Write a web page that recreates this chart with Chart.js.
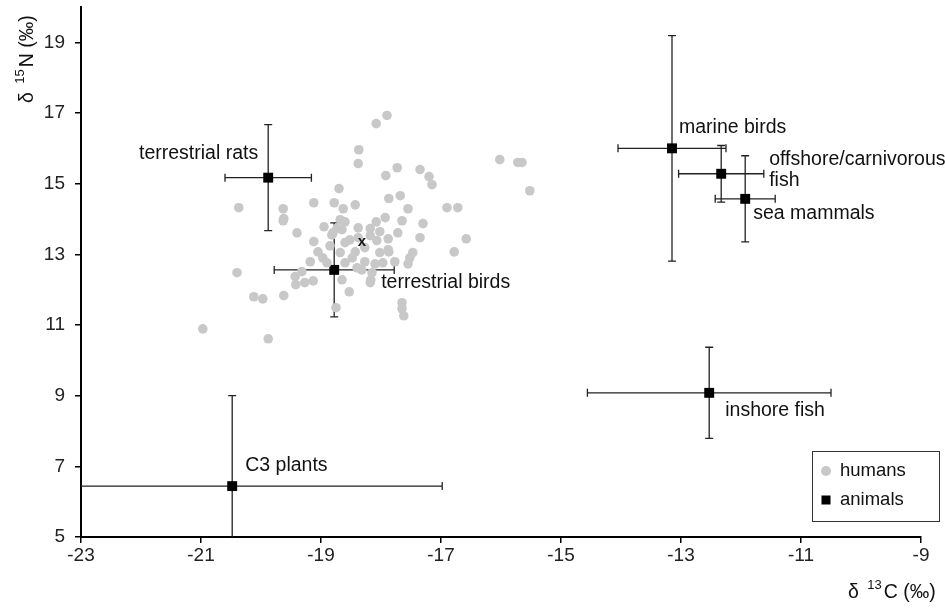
<!DOCTYPE html>
<html lang="en">
<head>
<meta charset="UTF-8">
<title>Carbon and nitrogen isotope values</title>
<script src="https://cdn.jsdelivr.net/npm/chart.js"></script>
<style>
  html, body { margin: 0; padding: 0; background: #fff; }
  .wrap { width: 945px; height: 611px; }
</style>
</head>
<body>
<div class="wrap"><canvas id="isoChart"></canvas></div>
<script>
const xTicks = [-23, -21, -19, -17, -15, -13, -11, -9];
const yTicks = [5, 7, 9, 11, 13, 15, 17, 19];

// humans (grey dots)
const humanX = [-20.37, -19.63, -19.62, -19.12, -18.78, -18.70, -18.63, -18.68, -18.95, -17.90,
  -18.08, -18.37, -18.38, -17.73, -17.92, -17.35, -17.20, -17.15, -16.02, -15.72,
  -15.65, -15.52, -16.90, -16.72, -17.68, -17.87, -17.55, -18.43, -17.93, -18.08,
  -17.65, -17.30, -18.18, -18.73, -16.58, -16.78, -17.47, -17.52, -17.55, -17.87,
  -17.72, -18.17, -18.53, -17.65, -17.65, -17.62, -17.97, -18.10, -18.32, -18.60,
  -18.18, -18.07, -18.02, -20.40, -20.12, -19.97, -19.62, -20.97, -19.88, -19.40,
  -19.12, -19.43, -19.32, -19.42, -19.27, -19.13, -18.75, -18.82, -18.65, -18.97,
  -18.90, -18.65, -18.68, -18.60, -19.63, -18.40, -18.27, -18.15, -17.88, -17.88,
  -18.02, -18.80, -18.38, -18.18, -18.52, -18.43, -18.85, -18.48, -19.05, -19.18,
  -18.27, -17.77, -18.38, -18.60, -17.35];
const humanY = [14.32, 14.29, 14.01, 14.46, 14.46, 14.86, 14.29, 13.98, 13.78, 16.93,
  16.70, 15.96, 15.57, 15.45, 15.23, 15.40, 15.20, 14.97, 15.68, 15.60,
  15.60, 14.80, 14.32, 14.32, 14.66, 14.58, 14.29, 14.40, 14.04, 13.92,
  13.95, 13.87, 13.73, 13.75, 13.44, 13.07, 13.05, 12.90, 12.73, 13.07,
  13.61, 12.28, 11.94, 11.63, 11.46, 11.26, 12.76, 12.73, 12.56, 12.76,
  13.53, 13.39, 13.05, 12.48, 11.80, 11.74, 11.83, 10.89, 10.61, 13.61,
  13.36, 12.37, 12.51, 12.14, 12.20, 12.25, 11.49, 13.55, 13.70, 12.90,
  12.76, 12.28, 13.05, 13.33, 13.95, 12.62, 12.79, 12.48, 13.13, 13.44,
  13.64, 13.61, 13.47, 12.20, 13.41, 13.07, 13.24, 12.90, 13.07, 12.79,
  13.19, 12.79, 13.75, 13.92, 13.47];
const humanMean = [-18.32, 13.36];

// animals (mean and 1 sd)
const animalNames = [["terrestrial rats"], ["terrestrial birds"], ["C3 plants"], ["marine birds"],
  ["offshore/carnivorous", "fish"], ["sea mammals"], ["inshore fish"]];
const animalX = [-19.88, -18.78, -20.48, -13.15, -12.33, -11.93, -12.53];
const animalY = [15.17, 12.56, 6.44, 16.0, 15.28, 14.57, 9.08];
const animalXErr = [0.72, 1.0, 3.5, 0.9, 0.71, 0.5, 2.03];
const animalYErr = [1.5, 1.33, 2.56, 3.19, 0.8, 1.22, 1.29];

// where each label sits relative to its square, in pixels
const labelOffsets = [[-10, -24, 'right'], [47, 13, 'left'], [13, -20, 'left'], [7, -21, 'left'],
  [48, -14, 'left'], [8, 15, 'left'], [16, 18, 'left']];

const FONT = '"Liberation Sans", Arial, sans-serif';

function drawSupText(ctx, x, y, before, sup, after, size) {
  ctx.font = size + 'px ' + FONT;
  ctx.fillText(before, x, y);
  let w = ctx.measureText(before).width + 3;
  ctx.font = Math.round(size * 0.65) + 'px ' + FONT;
  ctx.fillText(sup, x + w, y - size * 0.48);
  w += ctx.measureText(sup).width + 2;
  ctx.font = size + 'px ' + FONT;
  ctx.fillText(after, x + w, y);
}

const overlay = {
  id: 'overlay',
  beforeDatasetDraw(chart, args) {
    if (args.index !== 1) return;
    const { ctx, chartArea: a, scales: { x, y } } = chart;
    ctx.save();
    ctx.beginPath();
    ctx.rect(a.left, a.top, a.right - a.left, a.bottom - a.top);
    ctx.clip();
    ctx.strokeStyle = '#222';
    ctx.lineWidth = 1.3;
    const cap = 4;
    animalX.forEach((vx, i) => {
      const px = x.getPixelForValue(vx);
      const py = y.getPixelForValue(animalY[i]);
      const x0 = x.getPixelForValue(vx - animalXErr[i]);
      const x1 = x.getPixelForValue(vx + animalXErr[i]);
      const y0 = y.getPixelForValue(animalY[i] - animalYErr[i]);
      const y1 = y.getPixelForValue(animalY[i] + animalYErr[i]);
      ctx.beginPath();
      ctx.moveTo(x0, py); ctx.lineTo(x1, py);
      ctx.moveTo(x0, py - cap); ctx.lineTo(x0, py + cap);
      ctx.moveTo(x1, py - cap); ctx.lineTo(x1, py + cap);
      ctx.moveTo(px, y0); ctx.lineTo(px, y1);
      ctx.moveTo(px - cap, y0); ctx.lineTo(px + cap, y0);
      ctx.moveTo(px - cap, y1); ctx.lineTo(px + cap, y1);
      ctx.stroke();
    });
    ctx.restore();
  },
  afterDraw(chart) {
    const { ctx, scales: { x, y } } = chart;
    ctx.save();
    ctx.fillStyle = '#111';
    ctx.textBaseline = 'middle';
    ctx.font = '19.5px ' + FONT;
    animalNames.forEach((lines, i) => {
      const px = x.getPixelForValue(animalX[i]);
      const py = y.getPixelForValue(animalY[i]);
      const [dx, dy, align] = labelOffsets[i];
      ctx.textAlign = align;
      lines.forEach((t, k) => ctx.fillText(t, px + dx, py + dy + k * 21));
    });
    // mean of humans
    ctx.textAlign = 'center';
    ctx.font = 'bold 15px ' + FONT;
    ctx.fillText('x', x.getPixelForValue(humanMean[0]), y.getPixelForValue(humanMean[1]));

    // legend
    ctx.strokeStyle = '#333';
    ctx.lineWidth = 1;
    ctx.strokeRect(812.5, 451.5, 127, 70);
    ctx.fillStyle = '#c8c8c8';
    ctx.beginPath(); ctx.arc(826, 471, 5, 0, Math.PI * 2); ctx.fill();
    ctx.fillStyle = '#000';
    ctx.fillRect(821.5, 495.5, 9, 9);
    ctx.fillStyle = '#111';
    ctx.textAlign = 'left';
    ctx.font = '18.5px ' + FONT;
    ctx.fillText('humans', 840, 471);
    ctx.fillText('animals', 840, 500);

    // axis titles
    ctx.textBaseline = 'alphabetic';
    drawSupText(ctx, 848, 598, 'δ ', '13', 'C (‰)', 19.5);
    ctx.translate(33, 103);
    ctx.rotate(-Math.PI / 2);
    drawSupText(ctx, 0, 0, 'δ ', '15', 'N (‰)', 19.5);
    ctx.restore();
  }
};

const axisCommon = {
  type: 'linear',
  grid: { display: true, drawOnChartArea: false, drawTicks: true, tickLength: 6, color: '#000', lineWidth: 1.5 },
  border: { display: true, color: '#000', width: 2 },
  ticks: { autoSkip: false, color: '#222', font: { family: FONT, size: 19 } }
};

new Chart(document.getElementById('isoChart'), {
  type: 'scatter',
  data: {
    datasets: [
      {
        label: 'humans',
        data: humanX.map((v, i) => ({ x: v, y: humanY[i] })),
        backgroundColor: '#c8c8c8',
        borderWidth: 0,
        pointRadius: 4.8
      },
      {
        label: 'animals',
        data: animalX.map((v, i) => ({ x: v, y: animalY[i] })),
        backgroundColor: '#000',
        borderColor: '#000',
        borderWidth: 0,
        pointStyle: 'rect',
        pointRadius: 7
      }
    ]
  },
  options: {
    responsive: true,
    maintainAspectRatio: false,
    animation: false,
    layout: { padding: { top: 7, right: 24, left: 0, bottom: 0 } },
    plugins: { legend: { display: false }, tooltip: { enabled: false } },
    scales: {
      x: {
        ...axisCommon,
        min: -23, max: -9,
        ticks: { ...axisCommon.ticks, padding: 1 },
        afterBuildTicks: s => { s.ticks = xTicks.map(v => ({ value: v })); },
        afterFit: s => { s.height = 74; s.paddingLeft = 0; s.paddingRight = 0; }
      },
      y: {
        ...axisCommon,
        min: 5, max: 20,
        ticks: { ...axisCommon.ticks, padding: 10 },
        afterBuildTicks: s => { s.ticks = yTicks.map(v => ({ value: v })); },
        afterFit: s => { s.width = 81; s.paddingTop = 0; s.paddingBottom = 0; }
      }
    }
  },
  plugins: [overlay]
});
</script>
</body>
</html>
